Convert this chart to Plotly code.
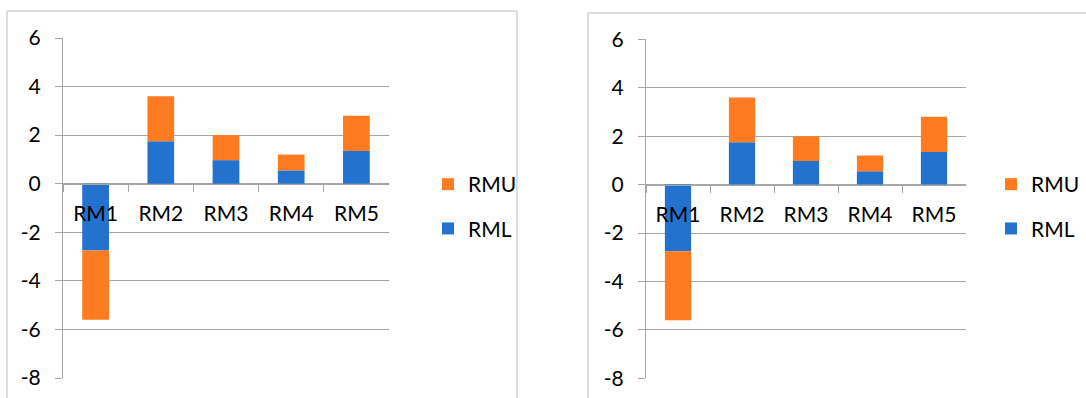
import plotly.graph_objects as go

# Stacked values per category (lower and upper components)
categories = ["RM1", "RM2", "RM3", "RM4", "RM5"]
rml_values = [-2.75, 1.75, 0.97, 0.55, 1.35]
rmu_values = [-2.85, 1.85, 1.03, 0.65, 1.45]
y_ticks = [6, 4, 2, 0, -2, -4, -6, -8]
y_tick_labels = ["6", "4", "2", "0", "-2", "-4", "-6", "-8"]

W, H = 1086, 398
ORANGE = "#FF7B22"
BLUE = "#2372CE"
GRID = "#A6A6A6"
FRAME = "#BDBDBD"
FONT = "Lato"
FSIZE = 21


def px_x(p):
    return p / W


def px_y(p):
    return 1 - p / H


fig = go.Figure()

panels = [
    # (x axis, y axis, x domain px, y domain px (top, bottom), legend, legend top-left px)
    ("x", "y", (63, 389), (38, 378), "legend", (428, 164)),
    ("x2", "y2", (646, 966), (39.3, 378.3), "legend2", (991, 164)),
]

for xa, ya, xd, yd, lg, lpos in panels:
    fig.add_trace(go.Bar(x=categories, y=rml_values, name="RML", marker_color=BLUE,
                         marker_line_width=0, xaxis=xa, yaxis=ya, legend=lg,
                         legendgroup=lg + "l", legendrank=2))
    fig.add_trace(go.Bar(x=categories, y=rmu_values, name="RMU", marker_color=ORANGE,
                         marker_line_width=0, xaxis=xa, yaxis=ya, legend=lg,
                         legendgroup=lg + "u", legendrank=1))

    ydom = [px_y(yd[1]), px_y(yd[0])]
    ymin, ymax = min(y_ticks), max(y_ticks)
    zero_pos = ydom[0] + (0 - ymin) / (ymax - ymin) * (ydom[1] - ydom[0])

    xkey = "xaxis" if xa == "x" else "xaxis2"
    ykey = "yaxis" if ya == "y" else "yaxis2"
    fig.update_layout(**{
        xkey: dict(
            domain=[px_x(xd[0]), px_x(xd[1])],
            anchor="free", position=zero_pos,
            showline=True, linecolor=GRID, linewidth=1,
            ticks="outside", tickson="boundaries", ticklen=7, tickcolor=GRID,
            showgrid=False, ticklabelstandoff=11, automargin=False,
            tickfont=dict(family=FONT, size=FSIZE, color="#000"),
            fixedrange=True,
        ),
        ykey: dict(
            domain=ydom, range=[ymin, ymax], anchor=xa,
            tickvals=y_ticks, ticktext=y_tick_labels,
            ticks="outside", ticklen=7, tickcolor=GRID,
            showline=True, linecolor=GRID, linewidth=1,
            showgrid=True, gridcolor=GRID, gridwidth=1,
            zeroline=True, zerolinecolor=GRID, zerolinewidth=1,
            ticklabelstandoff=10, automargin=False,
            tickfont=dict(family=FONT, size=FSIZE, color="#000"),
            fixedrange=True,
        ),
        lg: dict(
            x=px_x(lpos[0]), y=px_y(lpos[1]), xanchor="left", yanchor="top",
            traceorder="grouped", tracegroupgap=14,
            font=dict(family=FONT, size=FSIZE, color="#000"),
            bgcolor="rgba(0,0,0,0)",
        ),
    })

# Chart frames
fig.add_shape(type="rect", xref="paper", yref="paper",
              x0=px_x(7), x1=px_x(517), y0=px_y(410), y1=px_y(11),
              line=dict(color=FRAME, width=1))
fig.add_shape(type="rect", xref="paper", yref="paper",
              x0=px_x(588), x1=px_x(1100), y0=px_y(410), y1=px_y(13),
              line=dict(color=FRAME, width=1))

fig.update_layout(
    width=W, height=H,
    margin=dict(l=0, r=0, t=0, b=0, autoexpand=False),
    barmode="relative", bargap=0.59,
    paper_bgcolor="white", plot_bgcolor="white",
    showlegend=True,
    font=dict(family=FONT, size=FSIZE, color="#000"),
)

fig.write_html("out.html")
